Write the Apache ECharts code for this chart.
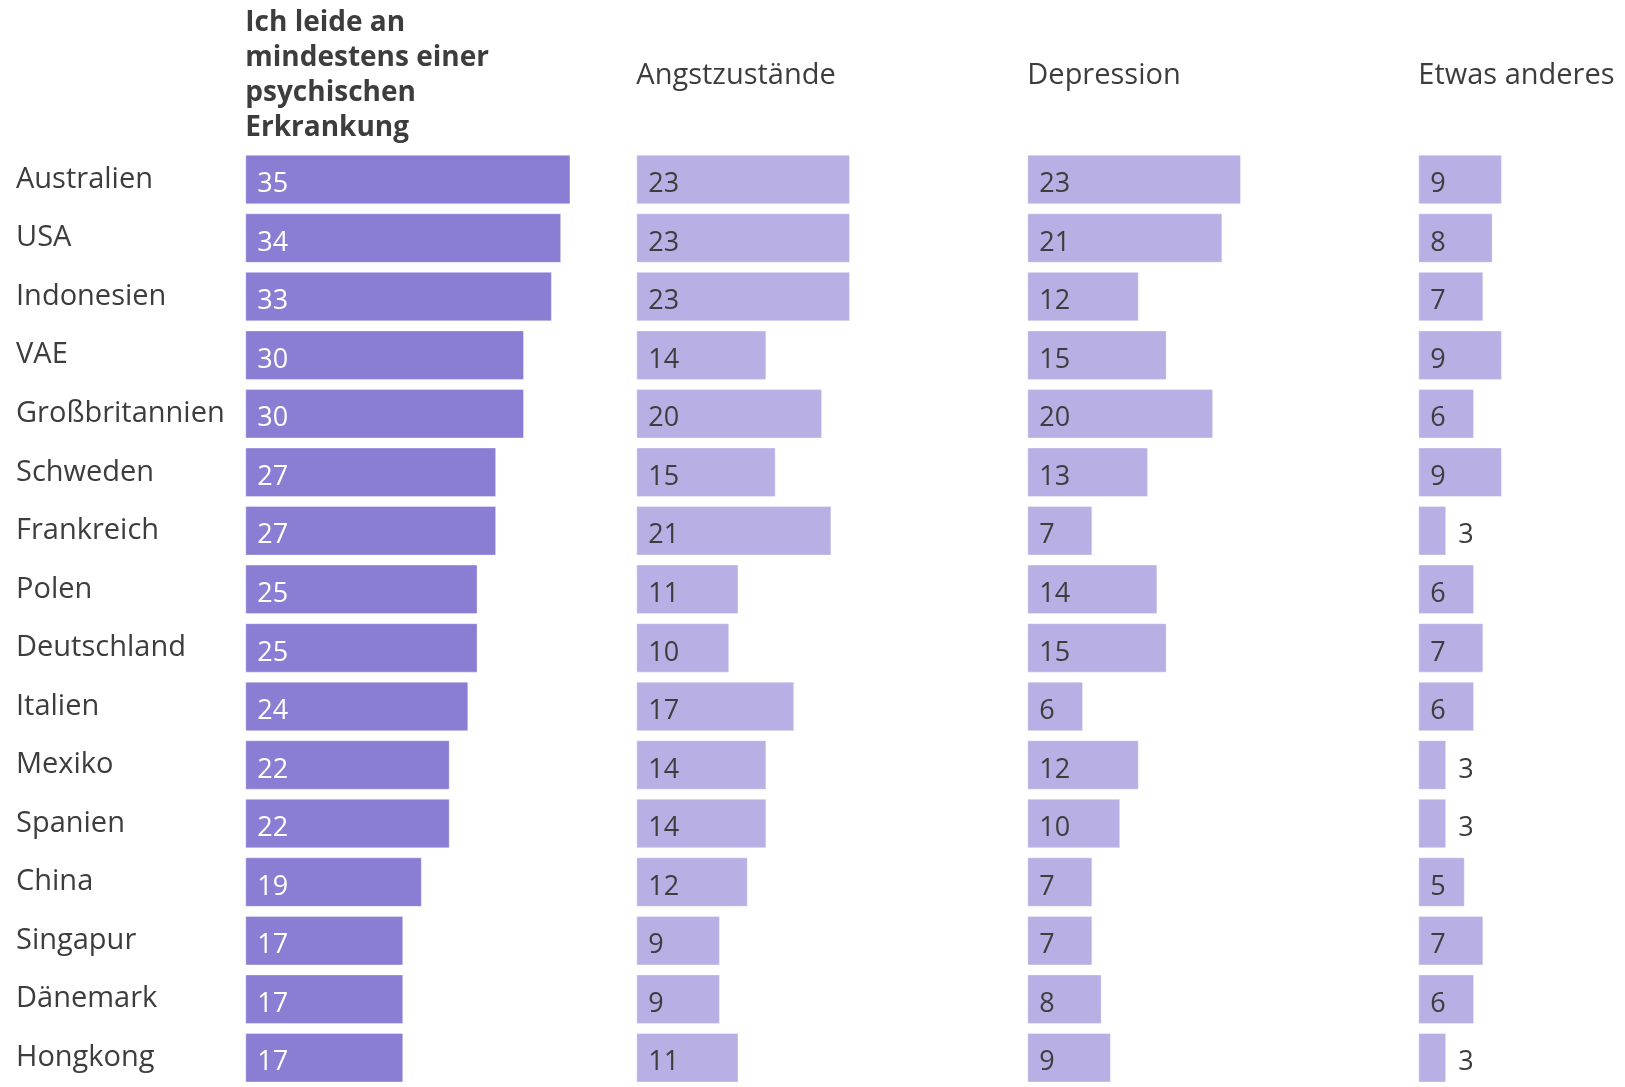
<!DOCTYPE html>
<html>
<head>
<meta charset="utf-8">
<script src="https://cdn.jsdelivr.net/npm/echarts@6/dist/echarts.min.js"></script>
<style>
html,body{margin:0;padding:0;background:#fff;}
#c{width:1625px;height:1087px;}
</style>
</head>
<body>
<div id="c"></div>
<script>
const countries = ["Australien","USA","Indonesien","VAE","Großbritannien","Schweden","Frankreich","Polen","Deutschland","Italien","Mexiko","Spanien","China","Singapur","Dänemark","Hongkong"];
const headers = ["Ich leide an\nmindestens einer\npsychischen\nErkrankung","Angstzustände","Depression","Etwas anderes"];
const anyIllness = [35,34,33,30,30,27,27,25,25,24,22,22,19,17,17,17];
const anxiety    = [23,23,23,14,20,15,21,11,10,17,14,14,12,9,9,11];
const depression = [23,21,12,15,20,13,7,14,15,6,12,10,7,7,8,9];
const other      = [9,8,7,9,6,9,3,6,7,6,3,3,5,7,6,3];

const seriesData = [anyIllness, anxiety, depression, other];
const FONT = '"Open Sans", Lato, sans-serif';
const pxPerUnit = 9.29;
const lefts = [245.3, 636.3, 1027.3, 1418.3];
const maxes = [40, 40, 40, 20];
const rowPitch = 59;
const barH = 49.5;
const gridTop = 150.25;
const gridHeight = rowPitch * countries.length;
const colors = ['#897dd4', '#b8afe4', '#b8afe4', '#b8afe4'];
const textColors = ['#ffffff', '#3d3d3d', '#3d3d3d', '#3d3d3d'];

const grids = [], xAxes = [], yAxes = [], series = [], titles = [];
for (let i = 0; i < 4; i++) {
  grids.push({left: lefts[i], top: gridTop, width: maxes[i] * pxPerUnit, height: gridHeight, containLabel: false});
  xAxes.push({type: 'value', gridIndex: i, min: 0, max: maxes[i], show: false});
  yAxes.push({
    type: 'category', gridIndex: i, data: countries, inverse: true,
    axisLine: {show: false}, axisTick: {show: false}, splitLine: {show: false},
    axisLabel: i === 0 ? {show: true, align: 'left', margin: lefts[0] - 16, color: '#3d3d3d', fontSize: 29, fontFamily: FONT, padding: [5, 0, 0, 0]} : {show: false}
  });
  series.push({
    type: 'bar', xAxisIndex: i, yAxisIndex: i, barWidth: barH,
    data: seriesData[i].map(v => ({
      value: v,
      label: v <= 3 ? {position: 'right', distance: 12, color: '#3d3d3d'} : {position: 'insideLeft', distance: 12, color: textColors[i]}
    })),
    itemStyle: {color: colors[i], borderColor: 'rgba(255,255,255,0.35)', borderWidth: 1},
    label: {show: true, fontSize: 27, fontFamily: FONT, offset: [0, 5]},
    emphasis: {disabled: true},
    silent: true
  });
  titles.push({
    text: headers[i], left: lefts[i], top: i === 0 ? 6 : 58,
    textStyle: {fontFamily: FONT, fontSize: i === 0 ? 28 : 29, fontWeight: i === 0 ? 'bold' : 'normal', color: '#3d3d3d', lineHeight: 35},
    padding: 0
  });
}

const chart = echarts.init(document.getElementById('c'), null, {renderer: 'canvas'});
chart.setOption({
  animation: false,
  backgroundColor: '#ffffff',
  title: titles,
  grid: grids,
  xAxis: xAxes,
  yAxis: yAxes,
  series: series
});
</script>
</body>
</html>
